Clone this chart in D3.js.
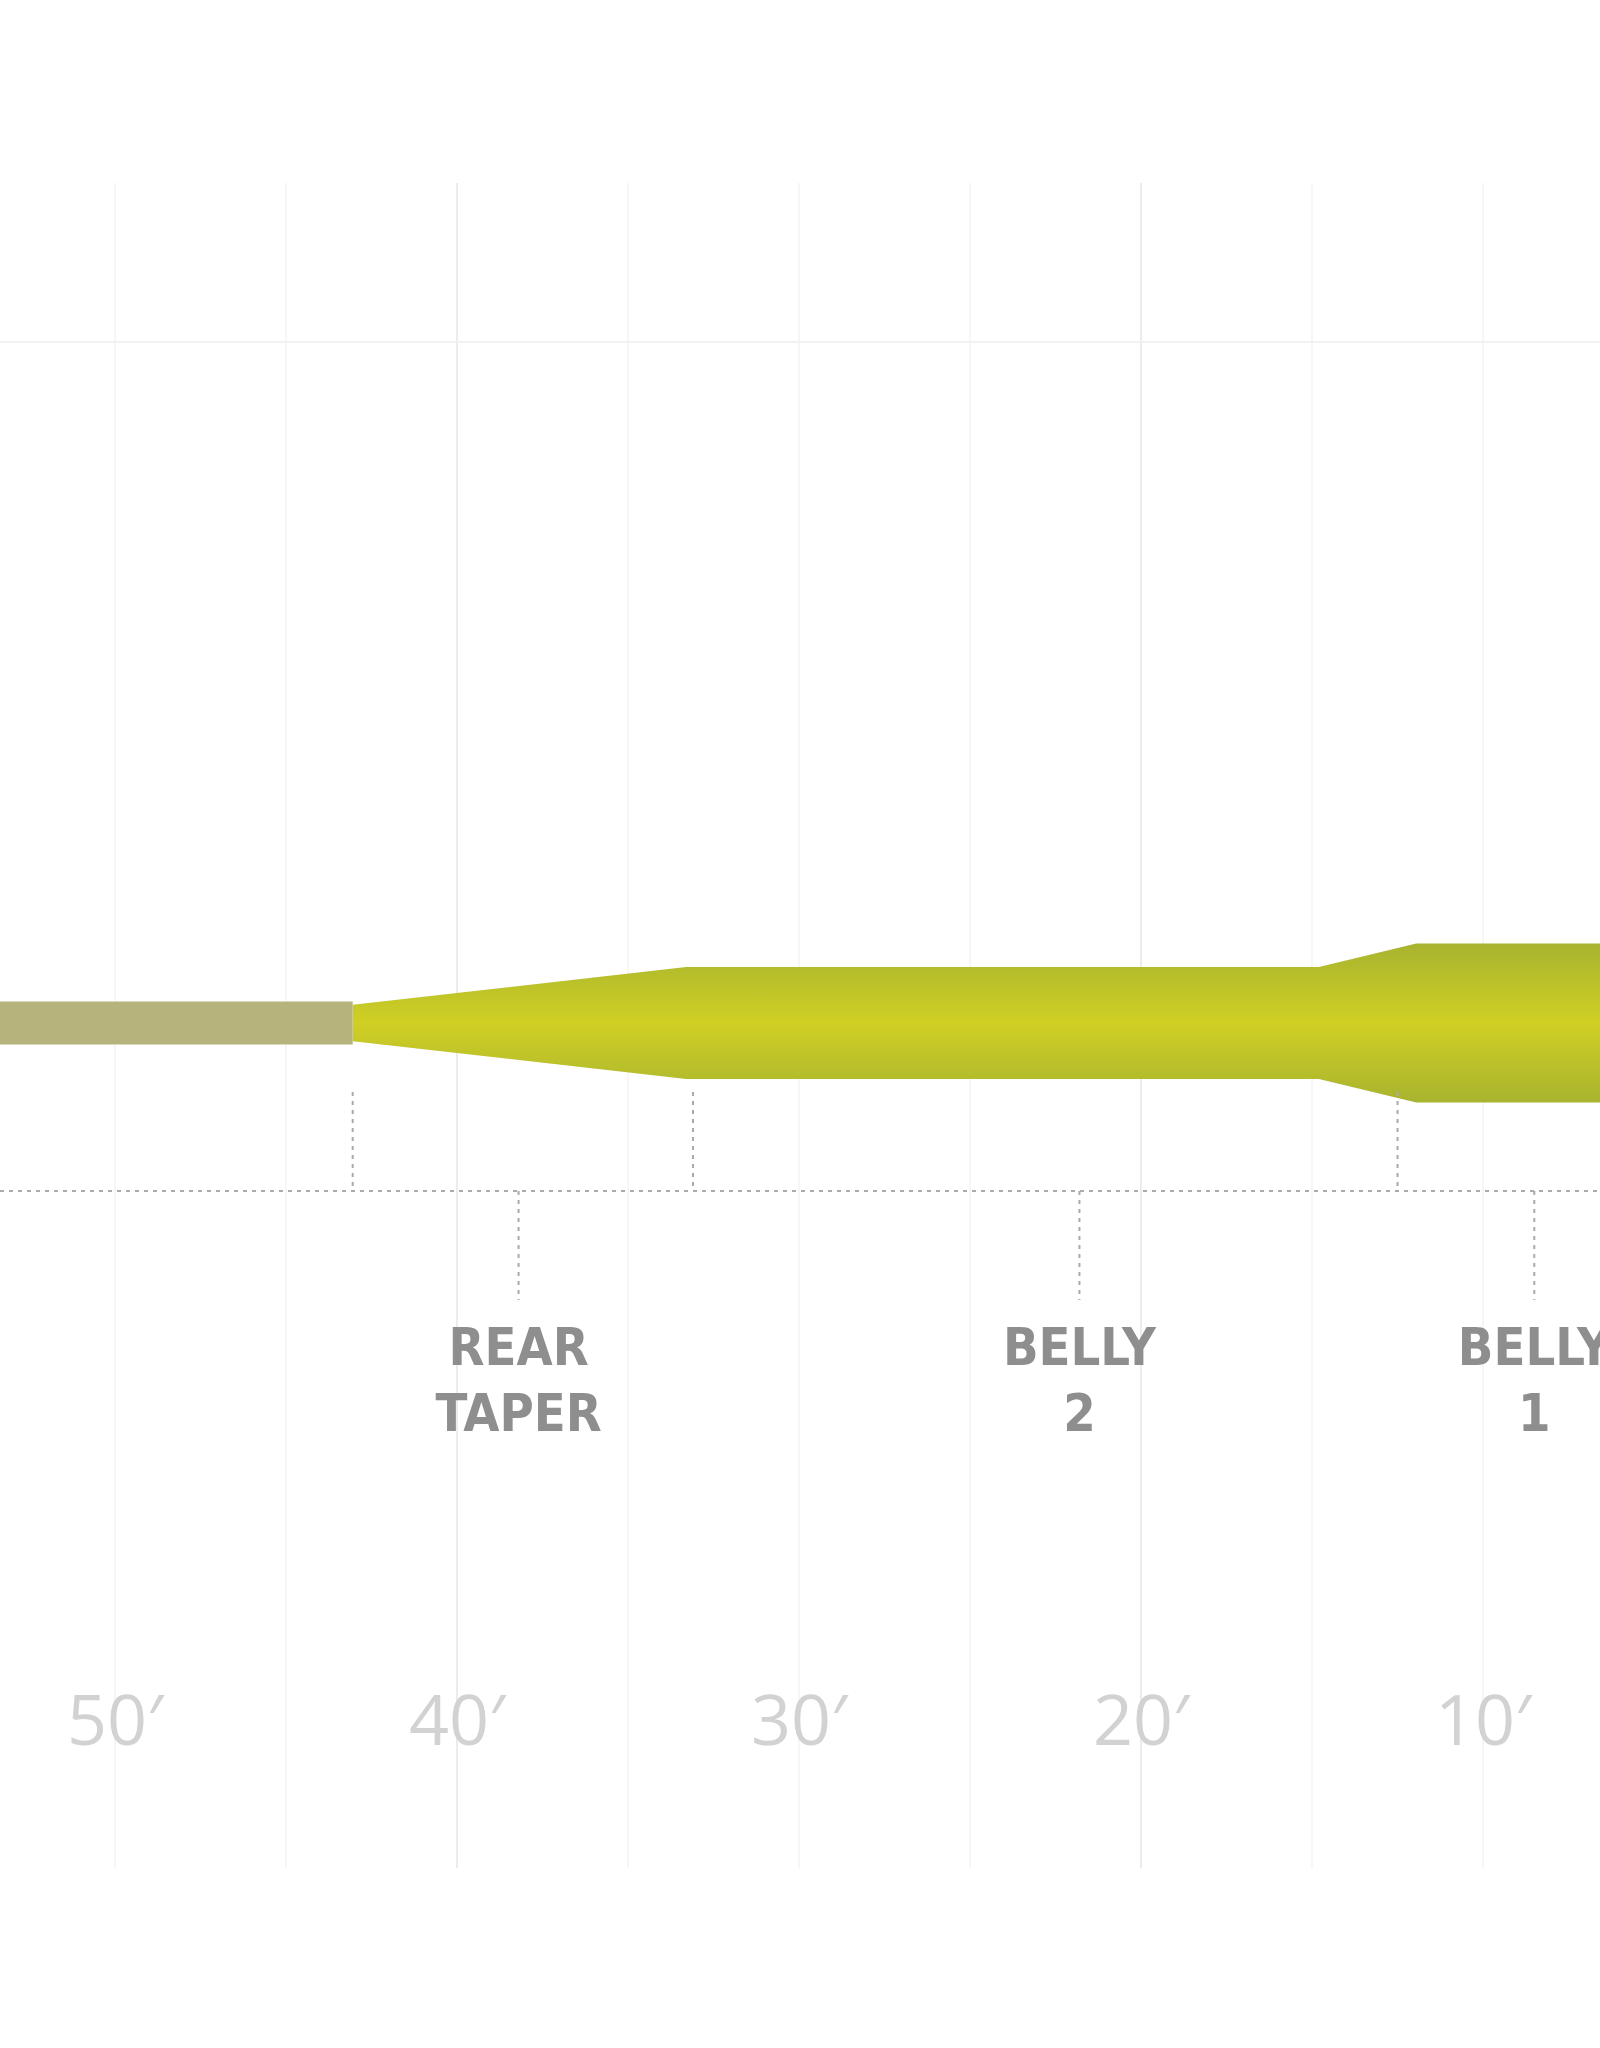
<!DOCTYPE html>
<html>
<head>
<meta charset="utf-8">
<script src="https://cdn.jsdelivr.net/npm/d3@7"></script>
<style>
  body { margin: 0; background: #fff; }
  svg { display: block; }
</style>
</head>
<body>
<svg id="chart" width="1600" height="2048"></svg>
<script>
// profile: distance from tip (ft) and half diameter (relative units)
const runningLine = [{ ft: 60, r: 1 }, { ft: 43.05, r: 1 }];
const headProfile = [
  { ft: 43.05, r: 0.85 },
  { ft: 33.3, r: 2.6 },
  { ft: 14.8, r: 2.6 },
  { ft: 11.95, r: 3.7 },
  { ft: 0, r: 3.7 }
];
const sectionMarks = [43.05, 33.1, 12.5];
const sectionLabels = [
  { ft: 38.2, lines: ["REAR", "TAPER"] },
  { ft: 21.8, lines: ["BELLY", "2"] },
  { ft: 8.5, lines: ["BELLY", "1"] }
];
const tickFeet = [50, 40, 30, 20, 10];
const gridFeet = [55, 50, 45, 40, 35, 30, 25, 20, 15, 10, 5];

const svg = d3.select("#chart");
const x = d3.scaleLinear().domain([50, 0]).range([115, 1825]);
const r = d3.scaleLinear().domain([0, 1]).range([0, 21.5]);
const cy = 1023;

// gradient for the head
const grad = svg.append("defs").append("linearGradient")
  .attr("id", "head").attr("x1", 0).attr("y1", 0).attr("x2", 0).attr("y2", 1);
[["0%", "#a8b42f"], ["50%", "#d0cf24"], ["100%", "#a8b42f"]].forEach(([o, c]) =>
  grad.append("stop").attr("offset", o).attr("stop-color", c));

// grid
svg.append("g").selectAll("line").data(gridFeet).join("line")
  .attr("x1", d => x(d)).attr("x2", d => x(d))
  .attr("y1", 183).attr("y2", 1868)
  .attr("stroke", d => d % 20 === 0 ? "#ececec" : "#f6f6f6")
  .attr("stroke-width", 2);
svg.append("line").attr("x1", 0).attr("x2", 1600).attr("y1", 342).attr("y2", 342)
  .attr("stroke", "#f2f2f2").attr("stroke-width", 2);

// line body
const area = d3.area().x(d => x(d.ft)).y0(d => cy - r(d.r)).y1(d => cy + r(d.r));
svg.append("path").datum(runningLine).attr("d", area).attr("fill", "#b6b47c");
svg.append("path").datum(headProfile).attr("d", area).attr("fill", "url(#head)");

// dotted baseline and markers
const dash = { stroke: "#aaa", "stroke-width": 2, "stroke-dasharray": "4 5" };
const base = svg.append("line").attr("x1", 0).attr("x2", 1600).attr("y1", 1191).attr("y2", 1191);
Object.entries(dash).forEach(([k, v]) => base.attr(k, v));
svg.append("g").selectAll("line").data(sectionMarks).join("line")
  .attr("x1", d => x(d)).attr("x2", d => x(d)).attr("y1", 1092).attr("y2", 1191)
  .attr("stroke", "#aaa").attr("stroke-width", 2).attr("stroke-dasharray", "4 5");
svg.append("g").selectAll("line").data(sectionLabels).join("line")
  .attr("x1", d => x(d.ft)).attr("x2", d => x(d.ft)).attr("y1", 1191).attr("y2", 1300)
  .attr("stroke", "#aaa").attr("stroke-width", 2).attr("stroke-dasharray", "4 5");

const lbl = svg.append("g").selectAll("text").data(sectionLabels).join("text")
  .attr("x", d => x(d.ft)).attr("text-anchor", "middle")
  .attr("font-family", "'DejaVu Sans Condensed', 'DejaVu Sans', sans-serif")
  .attr("font-weight", "bold").attr("font-size", 52).attr("fill", "#8e8e8e");
lbl.selectAll("tspan").data(d => d.lines.map(t => ({ t, ft: d.ft }))).join("tspan")
  .attr("x", d => x(d.ft)).attr("y", (d, i) => 1365 + i * 66).text(d => d.t);

// distance ticks
svg.append("g").selectAll("text").data(tickFeet).join("text")
  .attr("x", d => x(d)).attr("y", 1745).attr("text-anchor", "middle")
  .attr("font-family", "'Open Sans', sans-serif").attr("font-size", 70)
  .attr("fill", "#d2d2d2").text(d => d + "\u2032");
</script>
</body>
</html>
